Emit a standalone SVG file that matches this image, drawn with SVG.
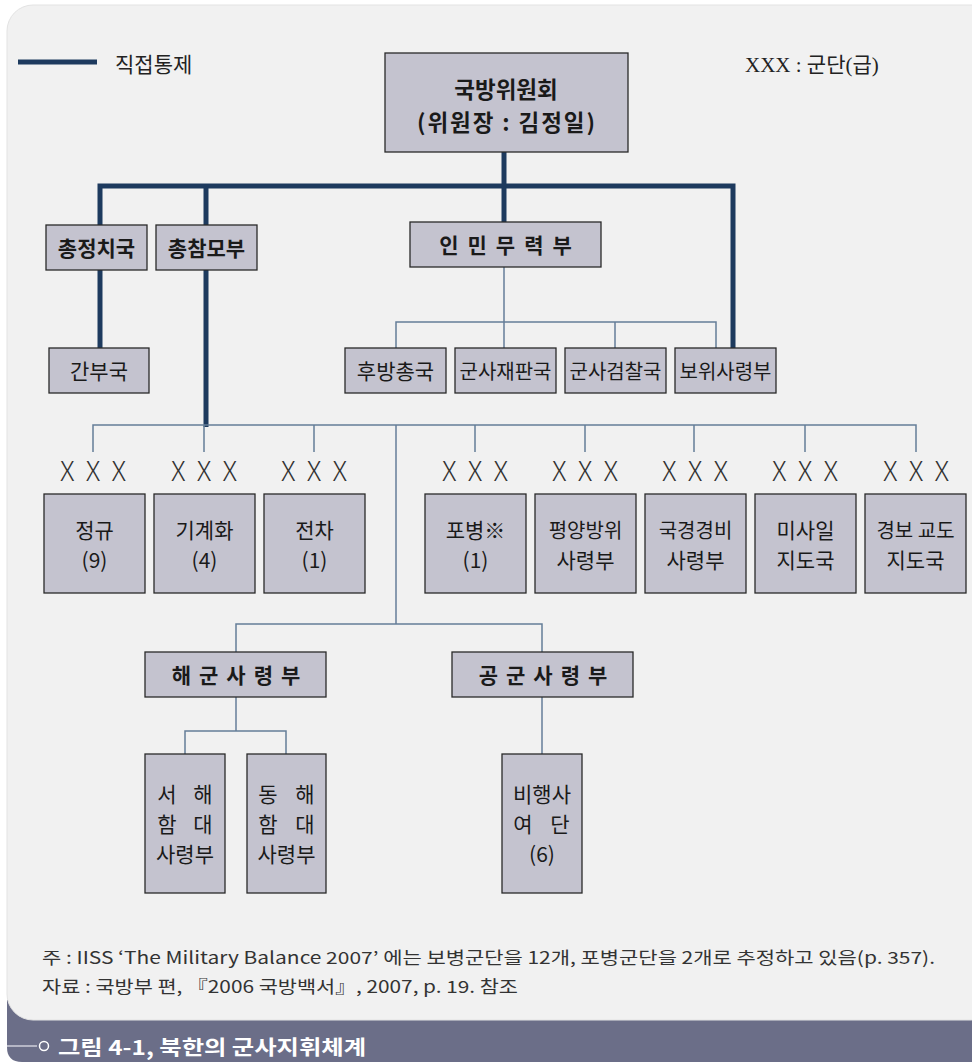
<svg xmlns="http://www.w3.org/2000/svg" width="972" height="1062" viewBox="0 0 972 1062">
<defs>
<style>
.box{fill:#c4c3cf;stroke:#2a2a2a;stroke-width:1.3}
.t{font-family:"Noto Sans CJK KR","Noto Sans",sans-serif;fill:#1a1a1a;text-anchor:middle}
.b{font-weight:bold}
.thick{fill:none;stroke:#1d3a5e;stroke-width:5}
.thin{fill:none;stroke:#647d98;stroke-width:1.5}
.x{font-family:"Noto Sans CJK KR","Liberation Sans",sans-serif;font-size:27px;fill:#333;text-anchor:middle;font-weight:300}
.serif{font-family:"Liberation Serif","Noto Sans CJK KR",serif;font-size:21px;fill:#222}
.note{font-family:"Noto Sans CJK KR",sans-serif;font-size:17px;fill:#333}
</style>
</defs>
<rect x="0" y="0" width="972" height="1062" fill="#ffffff"/>
<path d="M7 1000 H972 V1062 H22 Q7 1062 7 1047 Z" fill="#6b6e88"/>
<rect x="7" y="5" width="990" height="1015" rx="26" fill="#f1f1f1" stroke="#e3e3e3" stroke-width="1"/>
<line x1="7" y1="1046" x2="37" y2="1046" stroke="#e8e8ee" stroke-width="1.2"/>
<circle cx="44" cy="1046" r="4.5" fill="none" stroke="#ffffff" stroke-width="1.5"/>
<text x="58" y="1055" font-family="Noto Sans CJK KR,sans-serif" font-size="20" font-weight="bold" fill="#ffffff" textLength="308" lengthAdjust="spacingAndGlyphs">그림 4-1, 북한의 군사지휘체계</text>

<g id="legend">
<line x1="18" y1="62" x2="97" y2="62" stroke="#1d3a5e" stroke-width="5"/>
<text class="serif" x="115" y="72">직접통제</text>
<text class="serif" x="745" y="72" font-size="20">XXX : 군단(급)</text>
</g>

<g id="connectors">
<path class="thick" d="M504 152 V186"/>
<path class="thick" d="M100 225 V186 H733 V348"/>
<path class="thick" d="M206 186 V225"/>
<path class="thick" d="M504 186 V222"/>
<path class="thick" d="M100 270 V348"/>
<path class="thick" d="M206 270 V427"/>
<path class="thin" d="M504 267 V348"/>
<path class="thin" d="M396 348 V322 H716 V348"/>
<path class="thin" d="M615 322 V348"/>
<path class="thin" d="M93 452 V425 H916 V452"/>
<path class="thin" d="M204 425 V452 M314 425 V452 M475 425 V452 M585 425 V452 M694 425 V452 M805 425 V452"/>
<path class="thin" d="M396 425 V624"/>
<path class="thin" d="M236 652 V624 H542 V652"/>
<path class="thin" d="M236 697 V731"/>
<path class="thin" d="M185 754 V731 H286 V754"/>
<path class="thin" d="M542 697 V754"/>
</g>

<g id="xxx">
<text class="x" x="93" y="481" textLength="66" lengthAdjust="spacing">X X X</text>
<text class="x" x="204" y="481" textLength="66" lengthAdjust="spacing">X X X</text>
<text class="x" x="314" y="481" textLength="66" lengthAdjust="spacing">X X X</text>
<text class="x" x="475" y="481" textLength="66" lengthAdjust="spacing">X X X</text>
<text class="x" x="585" y="481" textLength="66" lengthAdjust="spacing">X X X</text>
<text class="x" x="695" y="481" textLength="66" lengthAdjust="spacing">X X X</text>
<text class="x" x="805" y="481" textLength="66" lengthAdjust="spacing">X X X</text>
<text class="x" x="916" y="481" textLength="66" lengthAdjust="spacing">X X X</text>
</g>

<g id="n_gukbang">
<rect class="box" x="385" y="53" width="243" height="99"/>
<text class="t b" x="506" y="98" font-size="22.5">국방위원회</text>
<text class="t b" x="506" y="131" font-size="22.5" textLength="178" lengthAdjust="spacing">(위원장 : 김정일)</text>
</g>
<g id="n_chongjeongchi">
<rect class="box" x="46" y="225" width="101" height="45"/>
<text class="t b" x="96.5" y="256" font-size="21">총정치국</text>
</g>
<g id="n_chongchammo">
<rect class="box" x="156" y="225" width="101" height="45"/>
<text class="t b" x="206.5" y="256" font-size="21">총참모부</text>
</g>
<g id="n_inmin">
<rect class="box" x="410" y="222" width="191" height="45"/>
<text class="t b" x="510" y="253" font-size="21" letter-spacing="9">인민무력부</text>
</g>
<g id="n_ganbu">
<rect class="box" x="49" y="348" width="100" height="45"/>
<text class="t" x="99" y="379" font-size="21">간부국</text>
</g>
<g id="n_hubang">
<rect class="box" x="345" y="348" width="101" height="45"/>
<text class="t" x="395.5" y="379" font-size="21">후방총국</text>
</g>
<g id="n_jaepan">
<rect class="box" x="455" y="348" width="101" height="45"/>
<text class="t" x="505.5" y="379" font-size="20">군사재판국</text>
</g>
<g id="n_geomchal">
<rect class="box" x="565" y="348" width="101" height="45"/>
<text class="t" x="615.5" y="379" font-size="20">군사검찰국</text>
</g>
<g id="n_bowi">
<rect class="box" x="675" y="348" width="101" height="45"/>
<text class="t" x="725.5" y="379" font-size="20">보위사령부</text>
</g>

<g id="n_jeonggyu">
<rect class="box" x="44" y="494" width="101" height="99"/>
<text class="t" x="94.5" y="538" font-size="21">정규</text>
<text class="t" x="94.5" y="568" font-size="21">(9)</text>
</g>
<g id="n_gigyehwa">
<rect class="box" x="154" y="494" width="101" height="99"/>
<text class="t" x="204.5" y="538" font-size="21">기계화</text>
<text class="t" x="204.5" y="568" font-size="21">(4)</text>
</g>
<g id="n_jeoncha">
<rect class="box" x="264" y="494" width="101" height="99"/>
<text class="t" x="314.5" y="538" font-size="21">전차</text>
<text class="t" x="314.5" y="568" font-size="21">(1)</text>
</g>
<g id="n_pobyeong">
<rect class="box" x="425" y="494" width="101" height="99"/>
<text class="t" x="475.5" y="538" font-size="21">포병※</text>
<text class="t" x="475.5" y="568" font-size="21">(1)</text>
</g>
<g id="n_pyeongyang">
<rect class="box" x="535" y="494" width="101" height="99"/>
<text class="t" x="585.5" y="538" font-size="20">평양방위</text>
<text class="t" x="585.5" y="568" font-size="21">사령부</text>
</g>
<g id="n_gukgyeong">
<rect class="box" x="645" y="494" width="101" height="99"/>
<text class="t" x="695.5" y="538" font-size="20">국경경비</text>
<text class="t" x="695.5" y="568" font-size="21">사령부</text>
</g>
<g id="n_missile">
<rect class="box" x="755" y="494" width="101" height="99"/>
<text class="t" x="805.5" y="538" font-size="21">미사일</text>
<text class="t" x="805.5" y="568" font-size="21">지도국</text>
</g>
<g id="n_gyeongbo">
<rect class="box" x="865" y="494" width="101" height="99"/>
<text class="t" x="915.5" y="538" font-size="20">경보 교도</text>
<text class="t" x="915.5" y="568" font-size="21">지도국</text>
</g>

<g id="n_haegun">
<rect class="box" x="145" y="652" width="181" height="45"/>
<text class="t b" x="240" y="683" font-size="21" letter-spacing="8">해군사령부</text>
</g>
<g id="n_gonggun">
<rect class="box" x="452" y="652" width="181" height="45"/>
<text class="t b" x="547" y="683" font-size="21" letter-spacing="8">공군사령부</text>
</g>
<g id="n_seohae">
<rect class="box" x="145" y="754" width="80" height="139"/>
<text class="t" x="167" y="802" font-size="21">서</text>
<text class="t" x="203" y="802" font-size="21">해</text>
<text class="t" x="167" y="832" font-size="21">함</text>
<text class="t" x="203" y="832" font-size="21">대</text>
<text class="t" x="185" y="862" font-size="21">사령부</text>
</g>
<g id="n_donghae">
<rect class="box" x="247" y="754" width="79" height="139"/>
<text class="t" x="268" y="802" font-size="21">동</text>
<text class="t" x="305" y="802" font-size="21">해</text>
<text class="t" x="268" y="832" font-size="21">함</text>
<text class="t" x="305" y="832" font-size="21">대</text>
<text class="t" x="286.5" y="862" font-size="21">사령부</text>
</g>
<g id="n_bihaeng">
<rect class="box" x="502" y="754" width="80" height="139"/>
<text class="t" x="542" y="802" font-size="21">비행사</text>
<text class="t" x="523" y="832" font-size="21">여</text>
<text class="t" x="560" y="832" font-size="21">단</text>
<text class="t" x="542" y="862" font-size="21">(6)</text>
</g>

<g id="notes">
<text class="note" x="42" y="964" textLength="893" lengthAdjust="spacingAndGlyphs">주 : IISS ‘The Military Balance 2007’ 에는 보병군단을 12개, 포병군단을 2개로 추정하고 있음(p. 357).</text>
<text class="note" x="42" y="993" textLength="476" lengthAdjust="spacingAndGlyphs">자료 : 국방부 편, 『2006 국방백서』, 2007, p. 19. 참조</text>
</g>
</svg>
